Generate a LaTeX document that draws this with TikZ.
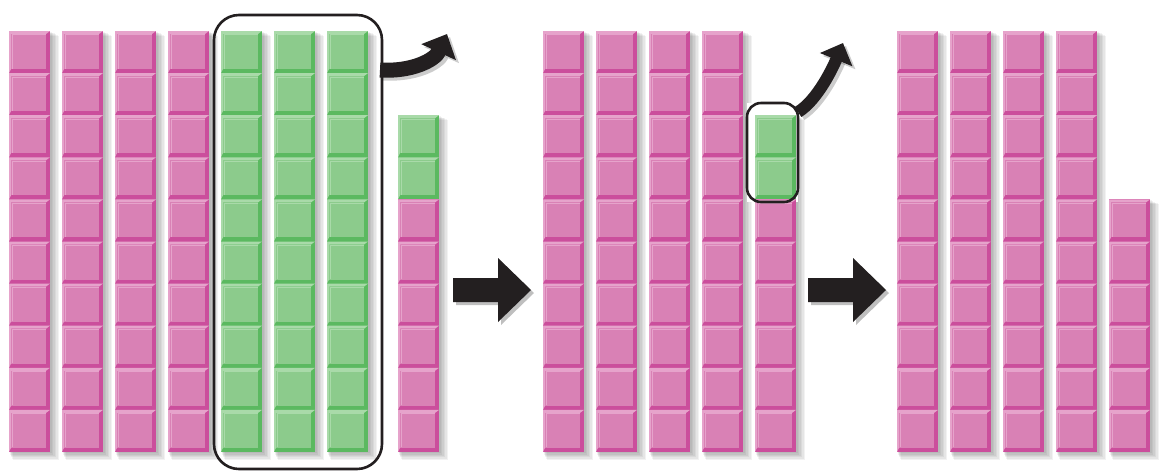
\documentclass[tikz,border=0pt]{standalone}
\usetikzlibrary{arrows.meta}
\definecolor{pmain}{HTML}{D981B5}
\definecolor{pdark}{HTML}{CB4E9C}
\definecolor{plight}{HTML}{E6A3CB}
\definecolor{gmain}{HTML}{8CCB8C}
\definecolor{gdark}{HTML}{5BB960}
\definecolor{glight}{HTML}{A9DAA9}
\definecolor{ink}{HTML}{231F20}
\newcommand{\mycell}[3]{%
 \fill[#3dark] (#1,#2) rectangle ++(41,42.1);
 \fill[#3light] (#1,#2) -- ++(41,0) -- ++(-4,3) -- ++(-35,0) -- ++(0,35) -- ++(-2,4.1) -- cycle;
 \fill[#3main] (#1+2,#2+3) rectangle (#1+37,#2+38);
 \draw[#3light, line width=0.8] (#1+3,#2+37.5) -- (#1+3,#2+3.8) -- (#1+36.5,#2+3.8);
}
\newcommand{\mycol}[3]{%
 \foreach \r in {#2,...,9} {\pgfmathsetmacro\yy{31+42.1*\r}\ifnum\r>#3 \mycell{#1}{\yy}{p}\else\mycell{#1}{\yy}{g}\fi}%
}
\newcommand{\myshadow}[2]{%
 \foreach \k in {1,...,6} {\fill[black,opacity=0.05] (#1+\k*0.6, 31+42.1*#2+\k*0.8) rectangle (#1+41+\k*1.5, 452+\k*1.3);}%
}
\tikzset{
  frame/.style={draw=ink, line width=2.6},
  bendarrow/.style={draw=ink, line width=#1},
  blockarrow/.style={fill=ink},
  arrowshadow/.style={fill=black, opacity=0.25}
}
\begin{document}
\begin{tikzpicture}[x=1pt,y=-1pt]
\useasboundingbox (0,0) rectangle (1160,475);
\fill[white] (0,0) rectangle (1160,475);
% shadows
\foreach \x in {9,62,115,168,221,274,327,543,596,649,702,897,950,1003,1056} {\myshadow{\x}{0}}
\myshadow{398}{2}
\myshadow{755}{2}
\myshadow{1109}{4}
% white interior of small frame
\fill[white] (747,103) rectangle (798,202);
% panel 1
\foreach \x in {9,62,115,168} {\mycol{\x}{0}{-1}}
\foreach \x in {221,274,327} {\mycol{\x}{0}{9}}
\mycol{398}{2}{3}
% panel 2
\foreach \x in {543,596,649,702} {\mycol{\x}{0}{-1}}
\mycol{755}{2}{3}
% panel 3
\foreach \x in {897,950,1003,1056} {\mycol{\x}{0}{-1}}
\mycol{1109}{4}{-1}
% frames
\draw[frame, rounded corners=25] (214,15) rectangle (382,469);
\draw[frame, rounded corners=14] (747,103) rectangle (798,202);
% curved arrows (shadow then arrow)
\draw[black, opacity=0.2, line width=15, -{Triangle[length=20pt,width=37pt]}] (383,73) .. controls (415,75) and (438,63) .. (450,37);
\draw[bendarrow=15, -{Triangle[length=20pt,width=37pt]}] (380,70) .. controls (412,72) and (435,60) .. (447,34);
\draw[black, opacity=0.2, line width=12, -{Triangle[length=18pt,width=34pt]}] (801,115) .. controls (821,103) and (837,68) .. (846,46);
\draw[bendarrow=12, -{Triangle[length=18pt,width=34pt]}] (798,112) .. controls (818,100) and (834,65) .. (843,43);
% block arrows
\foreach \dx in {0,355} {
  \fill[arrowshadow] (453+\dx+3,278+3) -- (498+\dx+3,278+3) -- (498+\dx+3,258+3) -- (531+\dx+3,290+3) -- (498+\dx+3,322+3) -- (498+\dx+3,302+3) -- (453+\dx+3,302+3) -- cycle;
  \fill[blockarrow] (453+\dx,278) -- (498+\dx,278) -- (498+\dx,258) -- (531+\dx,290) -- (498+\dx,322) -- (498+\dx,302) -- (453+\dx,302) -- cycle;
}
\end{tikzpicture}
\end{document}
